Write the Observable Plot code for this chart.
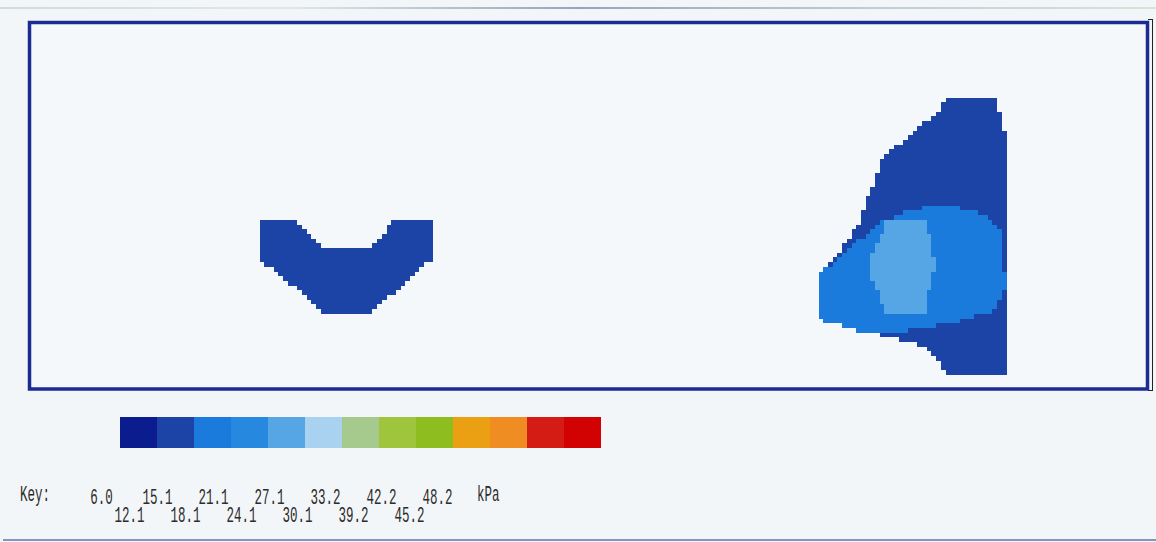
<!DOCTYPE html>
<html>
<head>
<meta charset="utf-8">
<script src="https://cdn.jsdelivr.net/npm/d3@7"></script>
<script src="https://cdn.jsdelivr.net/npm/@observablehq/plot@0.6"></script>
<style>
html, body { margin: 0; padding: 0; background: #f3f6f8; }
#wrap { position: relative; width: 1156px; height: 542px; overflow: hidden; background: #f3f6f8; font-family: "Liberation Mono", monospace; }
.p { position: absolute; left: 0; }
.scan { position: absolute; left: 0; top: 7px; width: 1156px; height: 2px;
  background: linear-gradient(90deg, rgba(150,170,150,0.35) 0%, rgba(150,170,150,0.2) 25%, rgba(90,110,150,0.6) 50%, rgba(120,140,160,0.4) 75%, rgba(160,180,150,0.3) 100%); }
.bracket { position: absolute; left: 1148px; top: 19px; width: 4px; height: 370px; border-top: 1.5px solid #222; border-right: 1.5px solid #222; border-bottom: 1.5px solid #222; }
.bottomline { position: absolute; left: 3px; top: 539px; width: 1153px; height: 2px; background: #8494c0; }
.cap { position: absolute; font-family: "Liberation Mono", monospace; font-size: 12.5px; color: #2b2b2b; display: inline-block; transform: scale(1, 1.8); transform-origin: 0 50%; line-height: 14px; }
</style>
</head>
<body>
<div id="wrap">
  <div class="scan"></div>
  <div class="bracket"></div>
  <div class="bottomline"></div>
  <div class="p" id="map" style="top:0"></div>
  <div class="p" id="bar" style="top:410px"></div>
  <div class="p" id="labels" style="top:470px"></div>
  <span class="cap" style="left:20px; top:489px;">Key:</span>
  <span class="cap" style="left:477px; top:489px;">kPa</span>
</div>
<script>
// ---- Data ----
// Key labels (kPa) and swatch colours
const keyLabels = ["6.0","12.1","15.1","18.1","21.1","24.1","27.1","30.1","33.2","39.2","42.2","45.2","48.2"];
const keyColors = ["#0b1d8e","#1c44a6","#1b7bdc","#2788e0","#56a6e6","#a9d1f0","#a6c98e","#9fc53c","#8dbd1e","#eba013","#ef8c22","#d51c14","#d30202"];

// Pressure regions (outline vertices in map units) and their pressure values (kPa)
const leftRegion = [[258,220],[296,220],[322,249],[368,249],[394,220],[435,220],[435,256],[384,300],[368,315],[323,315],[310,300],[258,258]];
const leftValue = 13;

const rightOuter = [[947,96],[993,96],[1000,113],[1007,143],[1007,370],[1002,374],[944,374],[937,357],[927,347],[893,338],[850,328],[817,318],[817,278],[820,273],[840,250],[858,223],[870,190],[882,159],[910,133],[937,112]];
const rightOuterValue = 13;

const rightMid = [[930,205],[957,207],[980,213],[993,220],[1003,233],[1004,287],[993,310],[950,323],[900,331],[850,330],[800,325],[800,275],[820,273],[850,247],[870,230],[883,220],[910,210]];
const rightMidValue = 16;

const rightInner = [[883,220],[925,220],[931,243],[935,267],[929,287],[925,312],[883,313],[881,297],[869,277],[869,258],[877,245],[882,230]];
const rightInnerValue = 22;

// ---- Build ----
const thresholds = keyLabels.slice(1).map(Number);
const colorScale = {type: "threshold", domain: thresholds, range: keyColors};

function pressureAt(x, y) {
  const p = [x, y];
  if (d3.polygonContains(leftRegion, p)) return leftValue;
  if (d3.polygonContains(rightOuter, p)) {
    if (d3.polygonContains(rightInner, p)) return rightInnerValue;
    if (d3.polygonContains(rightMid, p)) return rightMidValue;
    return rightOuterValue;
  }
  return NaN;
}

const mapPlot = Plot.plot({
  width: 1156,
  height: 400,
  marginLeft: 29,
  marginRight: 9,
  marginTop: 22,
  marginBottom: 11.5,
  x: {domain: [29, 1147], axis: null},
  y: {domain: [22, 388.5], reverse: true, axis: null},
  color: colorScale,
  style: {background: "transparent", overflow: "visible"},
  marks: [
    Plot.frame({fill: "#f5f8fa"}),
    Plot.raster({fill: pressureAt, x1: 29, x2: 1147, y1: 22, y2: 388.5, width: 238, height: 78, imageRendering: "pixelated"}),
    Plot.frame({stroke: "#1b2b92", strokeWidth: 3.5})
  ]
});
document.getElementById("map").appendChild(mapPlot);

const barPlot = Plot.plot({
  width: 1156,
  height: 50,
  marginLeft: 118,
  marginRight: 553,
  marginTop: 7,
  marginBottom: 12,
  x: {type: "band", domain: keyLabels, padding: 0, axis: null},
  color: colorScale,
  style: {background: "transparent"},
  marks: [
    Plot.cell(keyLabels, {x: d => d, fill: d => +d})
  ]
});
document.getElementById("bar").appendChild(barPlot);

const labelPlot = Plot.plot({
  width: 1156,
  height: 60,
  x: {type: "point", domain: keyLabels, range: [100, 437], padding: 0, axis: null},
  y: {type: "point", domain: [0, 1], range: [26, 44], padding: 0, axis: null},
  style: {background: "transparent", overflow: "visible"},
  marks: [
    Plot.text(keyLabels, {x: d => d, y: (d, i) => i % 2, text: d => d, fontSize: 22, fontFamily: "Liberation Mono", fill: "#2b2b2b"})
  ]
});
// condense the typewriter-style labels horizontally (tall, narrow glyphs as in the scan)
labelPlot.querySelectorAll("text").forEach(t => {
  const n = (t.textContent || "").length;
  t.setAttribute("textLength", n * 7.5);
  t.setAttribute("lengthAdjust", "spacingAndGlyphs");
});
document.getElementById("labels").appendChild(labelPlot);
</script>
</body>
</html>
